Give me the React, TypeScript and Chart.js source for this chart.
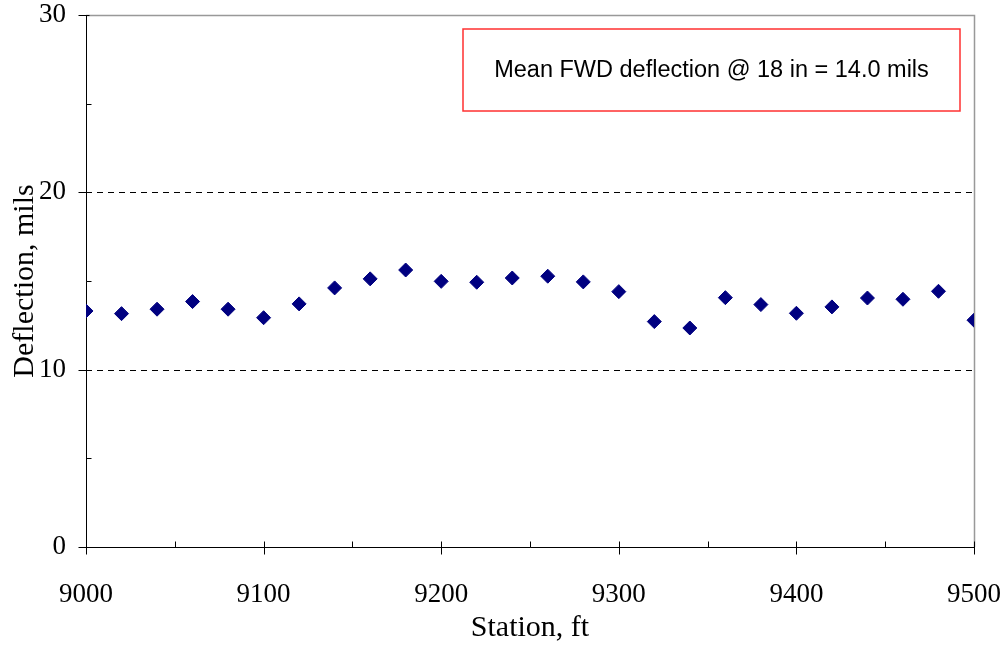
import React, { useEffect, useRef } from "react";
import { Chart, registerables } from "chart.js";

Chart.register(...registerables);

const stations = [9000, 9020, 9040, 9060, 9080, 9100, 9120, 9140, 9160, 9180, 9200, 9220, 9240, 9260, 9280, 9300, 9320, 9340, 9360, 9380, 9400, 9420, 9440, 9460, 9480, 9500];
const deflections = [13.31, 13.16, 13.41, 13.84, 13.41, 12.93, 13.71, 14.61, 15.12, 15.62, 14.98, 14.93, 15.17, 15.27, 14.95, 14.40, 12.71, 12.35, 14.06, 13.67, 13.18, 13.54, 14.04, 13.97, 14.42, 12.79];
const xMajorTicks = [9000, 9100, 9200, 9300, 9400, 9500];
const xMinorTicks = [9050, 9150, 9250, 9350, 9450];
const yMajorTicks = [0, 10, 20, 30];
const yMinorTicks = [5, 15, 25];
const yGridLines = [10, 20];
const annotationText = "Mean FWD deflection @ 18 in = 14.0 mils";

const framePlugin = {
  id: "frame",
  beforeDatasetsDraw(chart: any) {
    const { ctx, chartArea } = chart;
    const xs = chart.scales.x;
    const ys = chart.scales.y;
    ctx.save();
    ctx.strokeStyle = "#000";
    ctx.lineWidth = 1;
    ctx.setLineDash([6, 5]);
    yGridLines.forEach((v) => {
      const y = Math.round(ys.getPixelForValue(v)) + 0.5;
      ctx.beginPath();
      ctx.moveTo(chartArea.left, y);
      ctx.lineTo(chartArea.right, y);
      ctx.stroke();
    });
    ctx.setLineDash([]);
    ctx.strokeStyle = "#999";
    ctx.lineWidth = 1.5;
    ctx.beginPath();
    ctx.moveTo(chartArea.left, chartArea.top + 0.5);
    ctx.lineTo(chartArea.right + 0.5, chartArea.top + 0.5);
    ctx.lineTo(chartArea.right + 0.5, chartArea.bottom);
    ctx.stroke();
    ctx.strokeStyle = "#000";
    ctx.lineWidth = 1;
    const ax = Math.round(chartArea.left) + 0.5;
    const ay = Math.round(chartArea.bottom) + 0.5;
    ctx.beginPath();
    ctx.moveTo(ax, chartArea.top);
    ctx.lineTo(ax, ay);
    ctx.lineTo(chartArea.right, ay);
    ctx.stroke();
    yMajorTicks.forEach((v) => {
      const y = Math.round(ys.getPixelForValue(v)) + 0.5;
      ctx.beginPath();
      ctx.moveTo(ax - 8, y);
      ctx.lineTo(ax + 3, y);
      ctx.stroke();
    });
    yMinorTicks.forEach((v) => {
      const y = Math.round(ys.getPixelForValue(v)) + 0.5;
      ctx.beginPath();
      ctx.moveTo(ax, y);
      ctx.lineTo(ax + 5, y);
      ctx.stroke();
    });
    xMajorTicks.forEach((v) => {
      const x = Math.round(xs.getPixelForValue(v)) + 0.5;
      ctx.beginPath();
      ctx.moveTo(x, ay - 6);
      ctx.lineTo(x, ay + 7);
      ctx.stroke();
    });
    xMinorTicks.forEach((v) => {
      const x = Math.round(xs.getPixelForValue(v)) + 0.5;
      ctx.beginPath();
      ctx.moveTo(x, ay - 6);
      ctx.lineTo(x, ay);
      ctx.stroke();
    });
    const bw = 497;
    const bh = 82;
    const bx = chartArea.right - 14 - bw;
    const by = chartArea.top + 14;
    ctx.fillStyle = "#fff";
    ctx.fillRect(bx, by, bw, bh);
    ctx.strokeStyle = "#ff3030";
    ctx.lineWidth = 1.5;
    ctx.strokeRect(bx, by, bw, bh);
    ctx.fillStyle = "#000";
    ctx.font = '23.5px "Liberation Sans", Arial, sans-serif';
    ctx.textAlign = "center";
    ctx.textBaseline = "middle";
    ctx.fillText(annotationText, bx + bw / 2, by + bh / 2 + 1);
    ctx.restore();
  },
};

export default function App() {
  const canvasRef = useRef<HTMLCanvasElement | null>(null);

  useEffect(() => {
    document.body.style.margin = "0";
    const canvas = canvasRef.current;
    if (!canvas) return;
    const serif = '"Liberation Serif", "Times New Roman", serif';
    const chart = new Chart(canvas, {
      type: "scatter",
      data: {
        datasets: [
          {
            data: stations.map((s, i) => ({ x: s, y: deflections[i] })),
            pointStyle: "rectRot",
            pointRadius: 7,
            pointBorderWidth: 1,
            backgroundColor: "#000080",
            borderColor: "#000080",
            showLine: false,
          },
        ],
      },
      options: {
        responsive: false,
        animation: false,
        devicePixelRatio: 1,
        layout: { padding: { left: 0, right: 31, top: 15, bottom: 0 } },
        plugins: {
          legend: { display: false },
          tooltip: { enabled: false },
        },
        scales: {
          x: {
            type: "linear",
            min: 9000,
            max: 9500,
            afterFit: (scale: any) => {
              scale.height = 101;
              scale.paddingLeft = 0;
              scale.paddingRight = 0;
            },
            grid: { display: false, drawTicks: false },
            border: { display: false },
            ticks: {
              stepSize: 100,
              padding: 32,
              color: "#000",
              font: { family: serif, size: 27 },
              maxRotation: 0,
              callback: (v: any) => String(v),
            },
            title: {
              display: true,
              text: "Station, ft",
              color: "#000",
              font: { family: serif, size: 30 },
              padding: { top: 0, bottom: 2 },
            },
          },
          y: {
            type: "linear",
            min: 0,
            max: 30,
            afterFit: (scale: any) => {
              scale.width = 86;
              scale.paddingTop = 0;
              scale.paddingBottom = 0;
            },
            grid: { display: false, drawTicks: false },
            border: { display: false },
            ticks: {
              stepSize: 10,
              padding: 20,
              color: "#000",
              font: { family: serif, size: 27 },
              callback: (v: any) => String(v),
            },
            title: {
              display: true,
              text: "Deflection, mils",
              color: "#000",
              font: { family: serif, size: 30 },
              padding: { top: 7, bottom: 0 },
            },
          },
        },
      },
      plugins: [framePlugin],
    });
    return () => chart.destroy();
  }, []);

  return <canvas ref={canvasRef} width={1005} height={648} style={{ display: "block" }} />;
}
